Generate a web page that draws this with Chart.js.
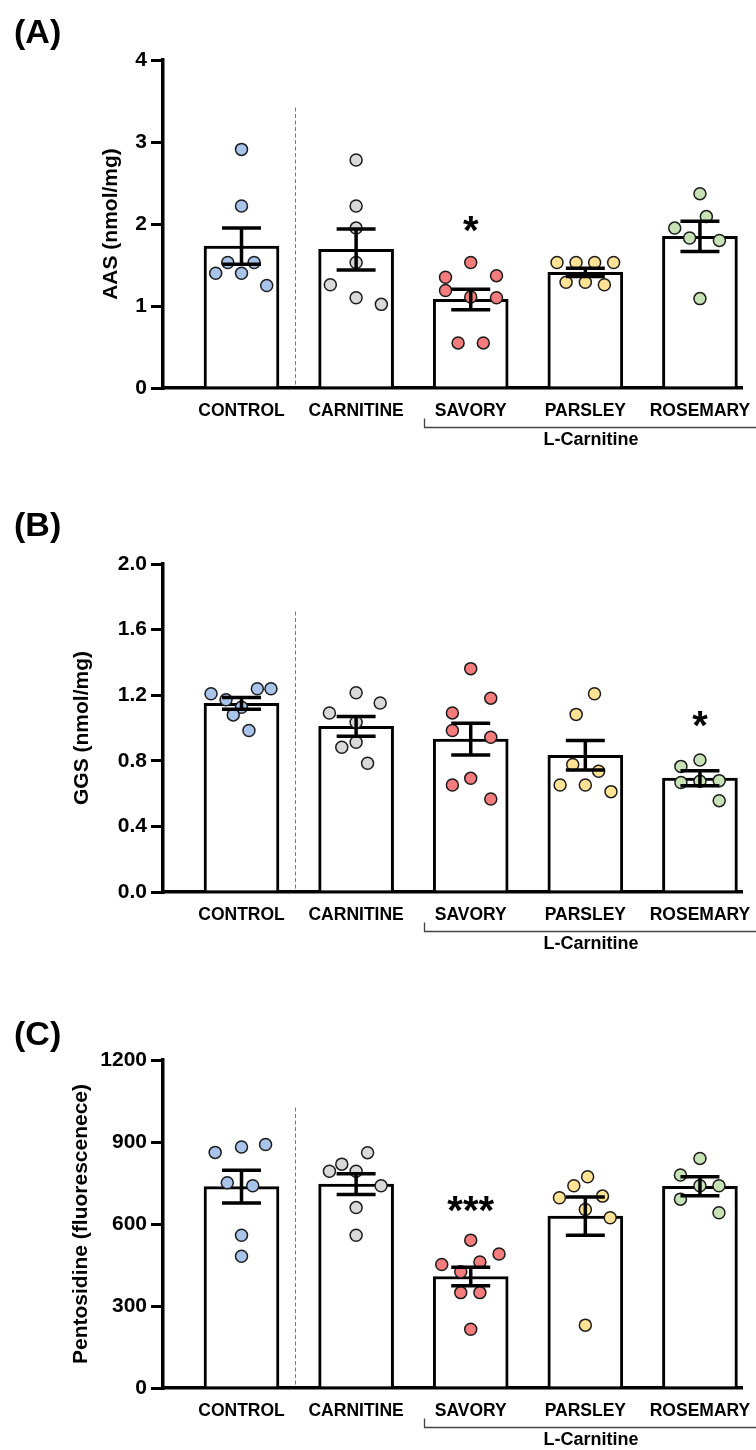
<!DOCTYPE html>
<html>
<head>
<meta charset="utf-8">
<script src="https://cdn.jsdelivr.net/npm/chart.js@4/dist/chart.umd.min.js"></script>
<style>
html,body{margin:0;padding:0;background:#fff;}
#wrap{position:relative;width:756px;height:1450px;overflow:hidden;}
.panel{position:absolute;left:0;width:756px;height:450px;}
</style>
</head>
<body>
<div id="wrap">
  <div class="panel" style="top:0px"><canvas id="cA" width="756" height="450"></canvas></div>
  <div class="panel" style="top:504px"><canvas id="cB" width="756" height="450"></canvas></div>
  <div class="panel" style="top:1000px"><canvas id="cC" width="756" height="450"></canvas></div>
</div>
<script>
// ---------- shared ----------
const categories = ['CONTROL', 'CARNITINE', 'SAVORY', 'PARSLEY', 'ROSEMARY'];
const groupColors = ['#a9c4ea', '#d9d9d9', '#f47c7c', '#ffe294', '#c7e2b4'];
const bracketLabel = 'L-Carnitine';

// ---------- panel A : AAS ----------
const aasMean = [1.73, 1.69, 1.08, 1.41, 1.85];
const aasSem = [0.22, 0.25, 0.125, 0.05, 0.185];
const aasValues = [
  [2.91, 2.22, 1.53, 1.53, 1.40, 1.40, 1.25],
  [2.78, 2.22, 1.95, 1.53, 1.26, 1.10, 1.02],
  [1.53, 1.35, 1.37, 1.19, 1.11, 1.10, 0.55, 0.55],
  [1.53, 1.53, 1.53, 1.53, 1.29, 1.29, 1.26],
  [2.37, 2.09, 1.95, 1.83, 1.80, 1.09]
];
const aasJitter = [
  [0, 0, -0.12, 0.11, -0.225, 0, 0.22],
  [0, 0, 0, 0, -0.225, 0, 0.22],
  [0, -0.22, 0.225, -0.22, 0, 0.225, -0.11, 0.11],
  [-0.247, -0.081, 0.081, 0.247, -0.168, 0, 0.166],
  [0, 0.056, -0.22, -0.09, 0.17, 0]
];
const aasTicks = [0, 1, 2, 3, 4];
const aasSig = ['', '', '*', '', ''];
const aasSigY = [0, 0, 2.03, 0, 0];

// ---------- panel B : GGS ----------
const ggsMean = [1.15, 1.01, 0.932, 0.834, 0.694];
const ggsSem = [0.036, 0.06, 0.097, 0.09, 0.046];
const ggsValues = [
  [1.209, 1.172, 1.239, 1.239, 1.127, 1.08, 0.985],
  [1.215, 1.152, 1.091, 1.035, 0.913, 0.883, 0.785],
  [1.362, 1.182, 1.092, 0.985, 0.944, 0.693, 0.652, 0.567],
  [1.209, 1.083, 0.777, 0.736, 0.652, 0.652, 0.612],
  [0.805, 0.766, 0.668, 0.675, 0.679, 0.557]
];
const ggsJitter = [
  [-0.266, -0.135, 0.138, 0.257, 0, -0.072, 0.065],
  [0, 0.21, -0.233, 0, 0, -0.125, 0.10],
  [0, 0.175, -0.16, -0.16, 0.175, 0, -0.16, 0.175],
  [0.08, -0.08, -0.11, 0.116, -0.22, 0, 0.224],
  [0, -0.166, -0.166, 0, 0.168, 0.168]
];
const ggsTicks = [0, 0.4, 0.8, 1.2, 1.6, 2.0];
const ggsSig = ['', '', '', '', '*'];
const ggsSigY = [0, 0, 0, 0, 1.066];

// ---------- panel C : Pentosidine ----------
const pentMean = [737, 746, 408, 629, 738];
const pentSem = [60, 38, 34, 70, 35];
const pentValues = [
  [862, 882, 891, 751, 740, 559, 482],
  [861, 819, 793, 793, 740, 660, 559],
  [541, 490, 452, 461, 425, 349, 349, 215],
  [773, 740, 696, 702, 653, 623, 230],
  [840, 779, 740, 740, 691, 641]
];
const pentJitter = [
  [-0.23, 0, 0.21, -0.124, 0.098, 0, 0],
  [0.10, -0.125, -0.233, 0, 0.218, 0, 0],
  [0, 0.247, -0.253, 0.08, -0.087, -0.087, 0.08, 0],
  [0.02, -0.1, -0.226, 0.15, 0, 0.217, 0],
  [0, -0.17, 0, 0.166, -0.17, 0.166]
];
const pentTicks = [0, 300, 600, 900, 1200];
const pentSig = ['', '', '***', '', ''];
const pentSigY = [0, 0, 682, 0, 0];

// ---------- drawing ----------
const FONT = "'Liberation Sans', Arial, Helvetica, sans-serif";

function makePanel(id, p) {
  const datasets = [];
  datasets.push({
    type: 'bar',
    data: p.mean.map((m, i) => ({ x: i, y: m })),
    backgroundColor: '#ffffff',
    borderColor: '#000000',
    borderWidth: 3,
    borderSkipped: 'start',
    barThickness: 75,
    order: 2
  });
  p.values.forEach((arr, g) => {
    datasets.push({
      type: 'scatter',
      data: arr.map((v, k) => ({ x: g + p.jitter[g][k], y: v })),
      backgroundColor: groupColors[g],
      borderColor: '#1c1c1c',
      borderWidth: 1.5,
      pointRadius: 6,
      pointHoverRadius: 6,
      order: 1
    });
  });

  const extras = {
    id: 'extras_' + id,
    afterDatasetsDraw(chart) {
      const { ctx, scales: { x, y } } = chart;
      ctx.save();
      // error bars (SEM)
      ctx.strokeStyle = '#000';
      ctx.lineWidth = 3.5;
      ctx.lineCap = 'butt';
      p.mean.forEach((m, i) => {
        const cx = x.getPixelForValue(i);
        const hw = x.getPixelForValue(i + 0.17) - cx;
        const yt = y.getPixelForValue(m + p.sem[i]);
        const yb = y.getPixelForValue(m - p.sem[i]);
        ctx.beginPath();
        ctx.moveTo(cx, yt); ctx.lineTo(cx, yb);
        ctx.moveTo(cx - hw, yt); ctx.lineTo(cx + hw, yt);
        ctx.moveTo(cx - hw, yb); ctx.lineTo(cx + hw, yb);
        ctx.stroke();
      });
      // significance marks
      ctx.fillStyle = '#000';
      ctx.font = 'bold 40px ' + FONT;
      ctx.textAlign = 'center';
      ctx.textBaseline = 'alphabetic';
      p.sig.forEach((s, i) => {
        if (!s) return;
        ctx.fillText(s, x.getPixelForValue(i), y.getPixelForValue(p.sigY[i]) + 22);
      });
      ctx.restore();
    },
    afterDraw(chart) {
      const { ctx, scales: { x, y }, chartArea } = chart;
      const axisY = y.getPixelForValue(0);
      ctx.save();
      // dashed separator
      ctx.strokeStyle = '#777';
      ctx.lineWidth = 1;
      ctx.setLineDash([4, 2.5]);
      const dx = Math.round(x.getPixelForValue(0.467)) + 0.5;
      ctx.beginPath();
      ctx.moveTo(dx, y.getPixelForValue(p.ticks[p.ticks.length - 1] * 0.855));
      ctx.lineTo(dx, axisY - 3);
      ctx.stroke();
      ctx.setLineDash([]);
      // bracket
      ctx.strokeStyle = '#444';
      ctx.lineWidth = 1.3;
      const bx = Math.round(x.getPixelForValue(1.59)) + 0.5;
      ctx.beginPath();
      ctx.moveTo(bx, axisY + 30.5);
      ctx.lineTo(bx, axisY + 39.5);
      ctx.lineTo(chart.width, axisY + 39.5);
      ctx.stroke();
      ctx.fillStyle = '#000';
      ctx.font = 'bold 18px ' + FONT;
      ctx.textAlign = 'center';
      ctx.textBaseline = 'middle';
      ctx.fillText(bracketLabel, x.getPixelForValue(3.05), axisY + 52);
      // panel letter
      ctx.font = 'bold 34px ' + FONT;
      ctx.textAlign = 'left';
      ctx.textBaseline = 'alphabetic';
      ctx.fillText(p.letter, 14, p.letterY);
      ctx.restore();
    }
  };

  return new Chart(document.getElementById(id), {
    type: 'bar',
    data: { datasets },
    plugins: [extras],
    options: {
      responsive: false,
      animation: false,
      events: [],
      layout: { padding: { top: 60, left: 0, right: 14, bottom: 0 } },
      plugins: { legend: { display: false }, tooltip: { enabled: false } },
      scales: {
        x: {
          type: 'linear',
          min: -0.685,
          max: 4.367,
          offset: false,
          afterBuildTicks: ax => { ax.ticks = categories.map((c, i) => ({ value: i })); },
          afterFit: ax => { ax.height = 62; ax.paddingLeft = 0; ax.paddingRight = 0; },
          ticks: {
            autoSkip: false, maxRotation: 0, minRotation: 0, padding: 13,
            color: '#000',
            font: { family: FONT, size: 17.5, weight: 'bold' },
            callback: v => categories[v]
          },
          grid: { display: false, drawTicks: false },
          border: { display: true, color: '#000', width: 3.5 }
        },
        y: {
          type: 'linear',
          min: p.ticks[0],
          max: p.ticks[p.ticks.length - 1],
          afterBuildTicks: ax => { ax.ticks = p.ticks.map(v => ({ value: v })); },
          afterFit: ax => { ax.width = 163; ax.paddingTop = 0; ax.paddingBottom = 0; },
          ticks: {
            padding: 4,
            color: '#000',
            font: { family: FONT, size: 21, weight: 'bold' },
            callback: v => v.toFixed(p.decimals)
          },
          grid: { display: true, drawOnChartArea: false, drawTicks: true, tickLength: 12, color: '#000', lineWidth: 3 },
          border: { display: true, color: '#000', width: 3.5 },
          title: {
            display: true, text: p.title, color: '#000',
            font: { family: FONT, size: 21, weight: 'bold' },
            padding: { top: p.titlePad, bottom: 0 }
          }
        }
      }
    }
  });
}

makePanel('cA', { mean: aasMean, sem: aasSem, values: aasValues, jitter: aasJitter, ticks: aasTicks,
  sig: aasSig, sigY: aasSigY, decimals: 0, title: 'AAS (nmol/mg)', titlePad: 99, letter: '(A)', letterY: 43 });
makePanel('cB', { mean: ggsMean, sem: ggsSem, values: ggsValues, jitter: ggsJitter, ticks: ggsTicks,
  sig: ggsSig, sigY: ggsSigY, decimals: 1, title: 'GGS (nmol/mg)', titlePad: 70, letter: '(B)', letterY: 32 });
makePanel('cC', { mean: pentMean, sem: pentSem, values: pentValues, jitter: pentJitter, ticks: pentTicks,
  sig: pentSig, sigY: pentSigY, decimals: 0, title: 'Pentosidine (fluorescenece)', titlePad: 69, letter: '(C)', letterY: 45 });
</script>
</body>
</html>
